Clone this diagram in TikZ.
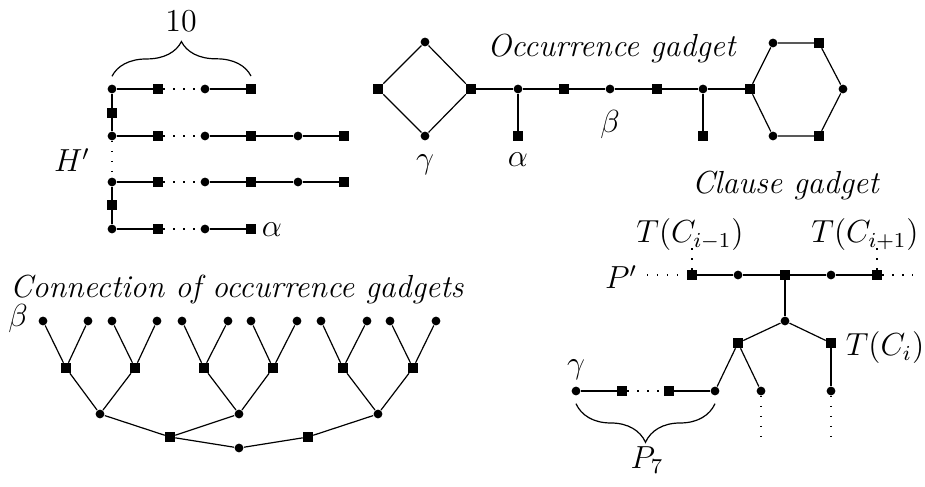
\documentclass[12pt,tikz,border=0pt]{standalone}
\usetikzlibrary{decorations.pathreplacing}
\usepackage{amsmath,amssymb}
\tikzset{
  vc/.style   = {circle, fill=black, inner sep=0pt, minimum size=3.3pt},
  vs/.style   = {rectangle, fill=black, inner sep=0pt, minimum size=3.5pt},
  gap/.style  = {dash pattern=on 0.55pt off 3.2pt},
  brc/.style  = {decorate, decoration={brace, amplitude=#1}},
  brc/.default = 13pt,
  lbl/.style  = {inner sep=0pt},
}
\begin{document}
\begin{tikzpicture}[x=0.376pt, y=-0.376pt, line width=0.45pt]

\useasboundingbox (0,0) rectangle (925,487);

% === 左上: H' ===
\node[vc] (h1a) at (112,89) {};
\node[vs] (h1b) at (158,89) {};
\node[vc] (h1c) at (205,89) {};
\node[vs] (h1d) at (251,89) {};
\node[vs] (hv1) at (112,113) {};

\node[vc] (h2a) at (112,136) {};
\node[vs] (h2b) at (158,136) {};
\node[vc] (h2c) at (205,136) {};
\node[vs] (h2d) at (251,136) {};
\node[vc] (h2e) at (298,136) {};
\node[vs] (h2f) at (344,136) {};

\node[vc] (h3a) at (112,182) {};
\node[vs] (h3b) at (158,182) {};
\node[vc] (h3c) at (205,182) {};
\node[vs] (h3d) at (251,182) {};
\node[vc] (h3e) at (298,182) {};
\node[vs] (h3f) at (344,182) {};
\node[vs] (hv2) at (112,205) {};

\node[vc] (h4a) at (112,229) {};
\node[vs] (h4b) at (158,229) {};
\node[vc] (h4c) at (205,229) {};
\node[vs] (h4d) at (251,229) {};

\draw (h1a) -- (h1b); \draw[gap] (h1b) -- (h1c); \draw (h1c) -- (h1d);
\draw (h1a) -- (hv1) -- (h2a);
\draw (h2a) -- (h2b); \draw[gap] (h2b) -- (h2c); \draw (h2c) -- (h2d) -- (h2e) -- (h2f);
\draw[gap] (h2a) -- (h3a);
\draw (h3a) -- (h3b); \draw[gap] (h3b) -- (h3c); \draw (h3c) -- (h3d) -- (h3e) -- (h3f);
\draw (h3a) -- (hv2) -- (h4a);
\draw (h4a) -- (h4b); \draw[gap] (h4b) -- (h4c); \draw (h4c) -- (h4d);

% 括号 10
\draw[brc=13pt] ([yshift=2.9pt]h1a.north) -- ([yshift=2.9pt]h1d.north);
\node[lbl] (ten) at (181,21) {10};

\node[lbl] (hlab) at (72,160) {$H'$};
\node[lbl] (alphaA) at (272,230) {$\alpha$};

% === 右上: Occurrence gadget ===
\node[lbl] (octitle) at (612,49) {\textit{Occurrence gadget}};

\node[vs] (dl) at (378,89) {};
\node[vc] (dt) at (425,42) {};
\node[vc] (db) at (425,136) {};
\node[vs] (dr) at (471,89) {};

\node[vc] (o1) at (518,89) {};
\node[vs] (o1p) at (518,136) {};
\node[vs] (o2) at (564,89) {};
\node[vc] (o3) at (610,89) {};
\node[vs] (o4) at (657,89) {};
\node[vc] (o5) at (703,89) {};
\node[vs] (o5p) at (703,136) {};

\node[vs] (x1) at (750,89) {};
\node[vc] (x2) at (773,43) {};
\node[vs] (x3) at (819,43) {};
\node[vc] (x4) at (843,89) {};
\node[vs] (x5) at (819,136) {};
\node[vc] (x6) at (773,136) {};

\draw (dl) -- (dt) -- (dr) -- (db) -- (dl);
\draw (dr) -- (o1) -- (o2) -- (o3) -- (o4) -- (o5) -- (x1);
\draw (o1) -- (o1p);
\draw (o5) -- (o5p);
\draw (x1) -- (x2) -- (x3) -- (x4) -- (x5) -- (x6) -- (x1);

\node[lbl] (gamA) at (425,165) {$\gamma$};
\node[lbl] (alphaB) at (518,160) {$\alpha$};
\node[lbl] (betaA) at (610,125) {$\beta$};

% === 右下: Clause gadget ===
\node[lbl] (cltitle) at (786,186) {\textit{Clause gadget}};
\node[lbl] (tprev) at (690,235) {$T(C_{i-1})$};
\node[lbl] (tnext) at (865,235) {$T(C_{i+1})$};
\node[lbl] (plab) at (621,277) {$P'$};

\node[vs] (p1) at (692,275) {};
\node[vc] (p2) at (738,275) {};
\node[vs] (p3) at (785,275) {};
\node[vc] (p4) at (831,275) {};
\node[vs] (p5) at (877,275) {};
\coordinate (pl) at (647,275);
\coordinate (pr) at (913,275);
\coordinate (tpe) at (692,240);
\coordinate (tne) at (877,240);

\node[vc] (c1) at (785,321) {};
\node[vs] (c2) at (738,343) {};
\node[vs] (c3) at (831,343) {};
\node[lbl] (tcur) at (885,348) {$T(C_i)$};
\node[vc] (c4) at (715,391) {};
\node[vc] (c5) at (761,391) {};
\node[vc] (c6) at (831,391) {};
\coordinate (c5e) at (761,437);
\coordinate (c6e) at (831,437);

\node[vc] (q1) at (576,391) {};
\node[vs] (q2) at (622,391) {};
\node[vs] (q3) at (669,391) {};
\node[lbl] (gamB) at (576,370) {$\gamma$};

\draw[gap] (pl) -- (p1);
\draw (p1) -- (p2) -- (p3) -- (p4) -- (p5);
\draw[gap] (p5) -- (pr);
\draw[gap] (p1) -- (tpe);
\draw[gap] (p5) -- (tne);
\draw (p3) -- (c1);
\draw (c1) -- (c2); \draw (c1) -- (c3);
\draw (c2) -- (c4); \draw (c2) -- (c5); \draw (c3) -- (c6);
\draw[gap] (c5) -- (c5e); \draw[gap] (c6) -- (c6e);
\draw (q1) -- (q2); \draw[gap] (q2) -- (q3); \draw (q3) -- (c4);

% 括号 P_7
\draw[brc=14.5pt] ([yshift=-2.9pt]c4.south) -- ([yshift=-2.9pt]q1.south);
\node[lbl] (p7) at (647,460) {$P_7$};

% === 左下: Connection of occurrence gadgets ===
\node[lbl] (cotitle) at (237,290) {\textit{Connection of occurrence gadgets}};
\node[lbl] (betaB) at (18,319) {$\beta$};

% 叶子
\node[vc] (l1) at (43,321) {};  \node[vc] (l2) at (88,321) {};
\node[vc] (l3) at (112,321) {}; \node[vc] (l4) at (157,321) {};
\node[vc] (l5) at (182,321) {}; \node[vc] (l6) at (228,321) {};
\node[vc] (l7) at (251,321) {}; \node[vc] (l8) at (297,321) {};
\node[vc] (l9) at (321,321) {}; \node[vc] (l10) at (367,321) {};
\node[vc] (l11) at (390,321) {}; \node[vc] (l12) at (436,321) {};

\node[vs] (s1) at (66,368) {};  \node[vs] (s2) at (135,368) {};
\node[vs] (s3) at (204,368) {}; \node[vs] (s4) at (273,368) {};
\node[vs] (s5) at (343,368) {}; \node[vs] (s6) at (413,368) {};

\node[vc] (m1) at (100,414) {};
\node[vc] (m2) at (239,414) {};
\node[vc] (m3) at (378,414) {};

\node[vs] (r1) at (170,437) {};
\node[vs] (r2) at (308,437) {};
\node[vc] (root) at (239,448) {};

\draw (l1) -- (s1) -- (l2);
\draw (l3) -- (s2) -- (l4);
\draw (l5) -- (s3) -- (l6);
\draw (l7) -- (s4) -- (l8);
\draw (l9) -- (s5) -- (l10);
\draw (l11) -- (s6) -- (l12);
\draw (s1) -- (m1) -- (s2);
\draw (s3) -- (m2) -- (s4);
\draw (s5) -- (m3) -- (s6);
\draw (m1) -- (r1) -- (m2);
\draw (r1) -- (root) -- (r2) -- (m3);

\end{tikzpicture}
\end{document}
